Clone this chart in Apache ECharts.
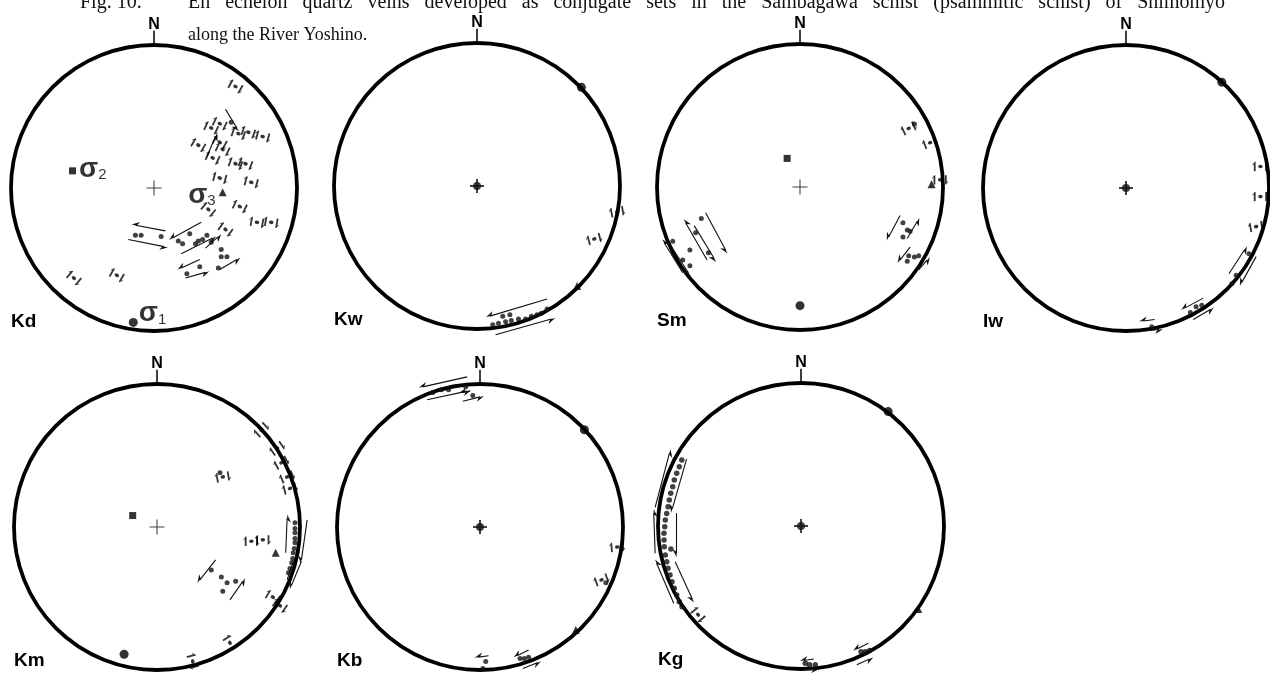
<!DOCTYPE html>
<html lang="en">
<head>
<meta charset="UTF-8">
<title>Fig. 10 en echelon quartz veins</title>
<script src="https://cdn.jsdelivr.net/npm/echarts@6/dist/echarts.min.js"></script>
<style>
  html, body { margin: 0; padding: 0; background: #fff; }
  #main { width: 1270px; height: 674px; }
</style>
</head>
<body>
<div id="main"></div>
<script type="text/javascript">
// all positions are on the primitive circle: x = east, y = north, radius 1

// Kd
var kdDots = [
  [-0.13, -0.33], [-0.09, -0.33], [0.05, -0.34],
  [0.17, -0.37], [0.25, -0.32], [0.20, -0.39], [0.29, -0.39], [0.31, -0.37], [0.34, -0.36], [0.37, -0.33], [0.40, -0.38],
  [0.47, -0.43], [0.47, -0.48], [0.51, -0.48], [0.45, -0.56],
  [0.32, -0.55], [0.23, -0.60], [0.54, 0.46]
];
var kdShear = [
  [0.57, 0.71, -30], [0.40, 0.42, -25], [0.46, 0.45, -25], [0.59, 0.38, -20], [0.66, 0.39, -20], [0.76, 0.36, -15],
  [0.31, 0.30, -30], [0.46, 0.32, -30], [0.41, 0.21, -25], [0.48, 0.27, -25], [0.57, 0.17, -20], [0.64, 0.17, -20],
  [0.46, 0.07, -15], [0.68, 0.04, -15],
  [0.38, -0.15, -40], [0.60, -0.13, -25], [0.72, -0.24, -10], [0.82, -0.24, -10], [0.50, -0.29, -35],
  [-0.56, -0.63, 140], [-0.26, -0.61, 150]
];
var kdArrows = [
  [0.08, -0.30, -0.13, -0.26], [-0.18, -0.36, 0.07, -0.41],
  [0.33, -0.24, 0.13, -0.35], [0.19, -0.46, 0.41, -0.35], [0.36, -0.42, 0.45, -0.34],
  [0.46, -0.57, 0.58, -0.50],
  [0.32, -0.50, 0.19, -0.56], [0.22, -0.63, 0.36, -0.59],
  [0.50, 0.55, 0.58, 0.42], [0.37, 0.22, 0.43, 0.36]
];
var kdSig1 = [[-0.145, -0.94]];
var kdSig2 = [[-0.57, 0.12]];
var kdSig3 = [[0.48, -0.03]];

// Kw
var kwDots = [
  [0.11, -0.97], [0.15, -0.96], [0.18, -0.91], [0.20, -0.95], [0.23, -0.90], [0.24, -0.94],
  [0.29, -0.93], [0.34, -0.93], [0.38, -0.91], [0.42, -0.90], [0.45, -0.89], [0.49, -0.86]
];
var kwShear = [[0.98, -0.18, 10], [0.82, -0.37, 15]];
var kwArrows = [[0.49, -0.79, 0.09, -0.91], [0.13, -1.04, 0.52, -0.93]];
var kwSig1 = [[0.73, 0.69]];
var kwSig3 = [[0.70, -0.70]];

// Sm
var smDots = [
  [0.80, 0.44], [0.72, -0.25], [0.75, -0.30], [0.72, -0.35], [0.77, -0.31],
  [0.76, -0.48], [0.80, -0.49], [0.75, -0.52], [0.83, -0.48],
  [-0.89, -0.38], [-0.82, -0.51], [-0.77, -0.55], [-0.77, -0.44], [-0.73, -0.32], [-0.69, -0.22], [-0.64, -0.46]
];
var smShear = [[0.76, 0.41, 25], [0.91, 0.31, 20], [0.98, 0.05, 0]];
var smArrows = [
  [0.70, -0.20, 0.62, -0.35], [0.75, -0.36, 0.82, -0.24], [0.77, -0.42, 0.70, -0.51], [0.83, -0.58, 0.89, -0.51],
  [-0.82, -0.60, -0.95, -0.39], [-0.91, -0.40, -0.78, -0.60], [-0.65, -0.51, -0.80, -0.25],
  [-0.74, -0.27, -0.60, -0.50], [-0.66, -0.18, -0.52, -0.44]
];
var smSig1 = [[0.0, -0.83]];
var smSig2 = [[-0.09, 0.20]];
var smSig3 = [[0.92, 0.02]];

// Iw
var iwDots = [[0.86, -0.46], [0.77, -0.61], [0.74, -0.67], [0.45, -0.87], [0.49, -0.83], [0.53, -0.82], [0.18, -0.97]];
var iwShear = [[0.94, 0.15, 0], [0.94, -0.06, 0], [0.91, -0.27, 10]];
var iwArrows = [
  [0.72, -0.60, 0.83, -0.43], [0.91, -0.48, 0.81, -0.66], [0.54, -0.77, 0.41, -0.84],
  [0.47, -0.92, 0.59, -0.85], [0.20, -0.92, 0.12, -0.93], [0.13, -1.00, 0.23, -0.99]
];
var iwSig1 = [[0.67, 0.74]];

// Km
var kmDots = [
  [0.44, 0.38], [0.38, -0.30], [0.45, -0.35], [0.49, -0.39], [0.55, -0.38], [0.46, -0.45],
  [0.965, 0.03], [0.965, -0.01], [0.965, -0.04], [0.965, -0.08], [0.965, -0.11], [0.96, -0.15],
  [0.953, -0.18], [0.949, -0.22], [0.942, -0.25], [0.93, -0.29], [0.919, -0.32]
];
var kmShear = [
  [0.46, 0.35, 10], [0.66, -0.10, 0], [0.74, -0.09, 0],
  [0.73, 0.68, 43], [0.84, 0.55, 35], [0.87, 0.45, 28], [0.91, 0.35, 22], [0.93, 0.27, 15],
  [0.81, -0.49, -31], [0.86, -0.55, -35], [0.51, -0.81, -58], [0.25, -0.94, -75]
];
var kmArrows = [
  [0.41, -0.23, 0.30, -0.37], [0.51, -0.51, 0.60, -0.38],
  [0.90, -0.18, 0.91, 0.06], [1.05, 0.05, 1.01, -0.23], [0.91, -0.37, 0.95, -0.25], [1.01, -0.24, 0.94, -0.41]
];
var kmSig1 = [[-0.23, -0.89]];
var kmSig2 = [[-0.17, 0.08]];
var kmSig3 = [[0.83, -0.18]];

// Kb
var kbDots = [
  [-0.33, 0.94], [-0.27, 0.96], [-0.22, 0.96], [-0.10, 0.98], [-0.05, 0.92],
  [0.88, -0.39], [0.04, -0.94], [0.02, -0.99], [0.28, -0.92], [0.31, -0.92], [0.34, -0.91]
];
var kbShear = [[0.96, -0.14, 5], [0.85, -0.37, 20]];
var kbArrows = [
  [-0.09, 1.05, -0.40, 0.98], [-0.37, 0.89, -0.09, 0.95], [-0.07, 0.95, -0.12, 0.94], [-0.12, 0.88, 0.00, 0.91],
  [0.06, -0.90, -0.01, -0.91], [0.34, -0.86, 0.26, -0.90], [0.30, -0.99, 0.40, -0.95]
];
var kbSig1 = [[0.73, 0.68]];
var kbSig3 = [[0.67, -0.72]];

// Kg
var kgDots = [
  [-0.834, 0.462], [-0.851, 0.415], [-0.869, 0.369], [-0.886, 0.322], [-0.897, 0.275], [-0.911, 0.229],
  [-0.921, 0.182], [-0.930, 0.135], [-0.939, 0.088], [-0.949, 0.042], [-0.953, -0.005], [-0.958, -0.051],
  [-0.958, -0.098], [-0.956, -0.145], [-0.949, -0.203], [-0.939, -0.250], [-0.930, -0.296], [-0.916, -0.343],
  [-0.902, -0.390], [-0.886, -0.436], [-0.869, -0.483], [-0.851, -0.530], [-0.832, -0.564],
  [-0.91, -0.16], [0.42, -0.88], [0.45, -0.88], [0.48, -0.87], [0.03, -0.96], [0.06, -0.97], [0.10, -0.97]
];
var kgShear = [[-0.72, -0.62, 130]];
var kgArrows = [
  [-1.02, 0.13, -0.92, 0.51], [-1.02, -0.19, -1.03, 0.09], [-0.89, -0.54, -1.01, -0.26],
  [-0.80, 0.47, -0.90, 0.12], [-0.87, 0.09, -0.87, -0.19], [-0.88, -0.25, -0.76, -0.51],
  [0.47, -0.82, 0.39, -0.86], [0.39, -0.97, 0.48, -0.93], [0.09, -0.93, 0.02, -0.94], [0.02, -1.00, 0.10, -1.00]
];
var kgSig1 = [[0.61, 0.80]];
var kgSig3 = [[0.82, -0.58]];

var panels = [
  { name: 'Kd', dots: kdDots, shear: kdShear, arrows: kdArrows, sig1: kdSig1, sig2: kdSig2, sig3: kdSig3, centre: 'thin' },
  { name: 'Kw', dots: kwDots, shear: kwShear, arrows: kwArrows, sig1: kwSig1, sig2: [], sig3: kwSig3, centre: 'bold' },
  { name: 'Sm', dots: smDots, shear: smShear, arrows: smArrows, sig1: smSig1, sig2: smSig2, sig3: smSig3, centre: 'thin' },
  { name: 'Iw', dots: iwDots, shear: iwShear, arrows: iwArrows, sig1: iwSig1, sig2: [], sig3: [], centre: 'bold' },
  { name: 'Km', dots: kmDots, shear: kmShear, arrows: kmArrows, sig1: kmSig1, sig2: kmSig2, sig3: kmSig3, centre: 'thin' },
  { name: 'Kb', dots: kbDots, shear: kbShear, arrows: kbArrows, sig1: kbSig1, sig2: [], sig3: kbSig3, centre: 'bold' },
  { name: 'Kg', dots: kgDots, shear: kgShear, arrows: kgArrows, sig1: kgSig1, sig2: [], sig3: kgSig3, centre: 'bold' }
];

// net centres in px, radius
var layout = [[154, 188], [477, 186], [800, 187], [1126, 188], [157, 527], [480, 527], [801, 526]];
var R = 143;

var captionLine1 = 'En echelon quartz veins developed as conjugate sets in the Sambagawa schist (psammitic schist) of Shimomyo';
var captionLine2 = 'along the River Yoshino.';

// symbols
var shearGlyph = 'path://M3.2,0 L3.2,12 L1.4,12 L1.4,2.6 L0.5,4.6 L0,3.7 L2.3,0 Z ' +
  'M5.7,6 A2.3,2.3 0 1 1 10.3,6 A2.3,2.3 0 1 1 5.7,6 Z ' +
  'M12.8,12 L12.8,0 L14.6,0 L14.6,9.4 L15.5,7.4 L16,8.3 L13.7,12 Z';
var halfHead = 'path://M5,0 L8.5,9 L5,6 Z M1.5,9 L1.55,9 L1.5,8.95 Z';
var thinPlus = 'path://M6.5,0 L7.5,0 L7.5,6.5 L14,6.5 L14,7.5 L7.5,7.5 L7.5,14 L6.5,14 L6.5,7.5 L0,7.5 L0,6.5 L6.5,6.5 Z';
var boldPlus = 'path://M6,0 L8,0 L8,6 L14,6 L14,8 L8,8 L8,14 L6,14 L6,8 L0,8 L0,6 L6,6 Z';

var sigmaRich = {
  s: { fontSize: 28, fontWeight: 'bold', fontFamily: 'Liberation Sans', color: '#000' },
  n: { fontSize: 15, fontFamily: 'Liberation Sans', color: '#000', padding: [12, 0, 0, 0] }
};
function sigmaLabel(n, pos, off) {
  return { show: true, position: pos, distance: 3, offset: off, formatter: '{s|σ}{n|' + n + '}', rich: sigmaRich };
}

// the first caption line is justified in the print, so its word gaps are wide
var option = {
  animation: false,
  backgroundColor: '#fff',
  polar: [], angleAxis: [], radiusAxis: [],
  grid: [], xAxis: [], yAxis: [],
  series: [],
  graphic: [
    { type: 'text', x: 80, y: 3, style: { text: 'Fig. 10.', font: '20px "Liberation Serif"', fill: '#111', verticalAlign: 'middle', textVerticalAlign: 'middle' } },
    { type: 'text', x: 188, y: 3, style: { text: captionLine1.split(' ').join('   '), font: '20px "Liberation Serif"', fill: '#111', verticalAlign: 'middle', textVerticalAlign: 'middle' } },
    { type: 'text', x: 188, y: 35, style: { text: captionLine2, font: '18px "Liberation Serif"', fill: '#111', verticalAlign: 'middle', textVerticalAlign: 'middle' } }
  ]
};

panels.forEach(function (p, i) {
  var cx = layout[i][0], cy = layout[i][1];
  var ax = { xAxisIndex: i, yAxisIndex: i, coordinateSystem: 'cartesian2d' };

  option.polar.push({ center: [cx, cy], radius: R });
  option.angleAxis.push({
    polarIndex: i, type: 'value', min: 0, max: 360, startAngle: 90, clockwise: true,
    axisLine: { show: true, lineStyle: { color: '#000', width: 3.8 } },
    axisTick: { show: false }, axisLabel: { show: false }, splitLine: { show: false }
  });
  option.radiusAxis.push({ polarIndex: i, type: 'value', min: 0, max: 1, show: false });
  option.grid.push({ left: cx - R, top: cy - R, width: 2 * R, height: 2 * R, show: false });
  option.xAxis.push({ gridIndex: i, type: 'value', min: -1, max: 1, show: false });
  option.yAxis.push({ gridIndex: i, type: 'value', min: -1, max: 1, show: false });

  // north tick
  option.series.push(Object.assign({
    type: 'lines', clip: false, silent: true,
    lineStyle: { color: '#000', width: 1.5, opacity: 1 },
    data: [{ coords: [[0, 1], [0, 1.1]] }]
  }, ax));

  // shear-sense arrows
  option.series.push(Object.assign({
    type: 'lines', clip: false, silent: true,
    symbol: ['none', halfHead], symbolSize: [6, 8],
    lineStyle: { color: '#111', width: 1.1, opacity: 1 },
    data: p.arrows.map(function (a) { return { coords: [[a[0], a[1]], [a[2], a[3]]] }; })
  }, ax));

  // vein poles
  option.series.push(Object.assign({
    type: 'scatter', clip: false, silent: true, symbol: 'circle', symbolSize: p.name === 'Kg' ? 5.5 : 5,
    itemStyle: { color: '#111' }, data: p.dots
  }, ax));

  // poles with small shear-sense marks
  option.series.push(Object.assign({
    type: 'scatter', clip: false, silent: true, symbol: shearGlyph, symbolSize: [16, 12.5], symbolKeepAspect: true,
    itemStyle: { color: '#000' },
    data: p.shear.map(function (s) { return { value: [s[0], s[1]], symbolRotate: s[2] }; })
  }, ax));

  // sigma 1 (circle), sigma 2 (square), sigma 3 (triangle)
  var isKd = p.name === 'Kd';
  option.series.push(Object.assign({
    type: 'scatter', clip: false, silent: true, symbol: 'circle', symbolSize: 9,
    itemStyle: { color: '#000' }, data: p.sig1,
    label: isKd ? sigmaLabel(1, 'right', [-2, -9]) : { show: false }
  }, ax));
  option.series.push(Object.assign({
    type: 'scatter', clip: false, silent: true, symbol: 'rect', symbolSize: 7,
    itemStyle: { color: '#000' }, data: p.sig2,
    label: isKd ? sigmaLabel(2, 'right', [0, -2]) : { show: false }
  }, ax));
  option.series.push(Object.assign({
    type: 'scatter', clip: false, silent: true, symbol: 'triangle', symbolSize: 8,
    itemStyle: { color: '#000' }, data: p.sig3,
    label: isKd ? sigmaLabel(3, 'left', [0, 3]) : { show: false }
  }, ax));

  // centre of the net
  if (p.centre === 'thin') {
    option.series.push(Object.assign({
      type: 'scatter', silent: true, symbol: thinPlus, symbolSize: 15,
      itemStyle: { color: '#111' }, data: [[0, 0]]
    }, ax));
  } else {
    option.series.push(Object.assign({
      type: 'scatter', silent: true, symbol: boldPlus, symbolSize: 14,
      itemStyle: { color: '#111' }, data: [[0, 0]]
    }, ax));
    option.series.push(Object.assign({
      type: 'scatter', silent: true, symbol: 'circle', symbolSize: 8,
      itemStyle: { color: '#111' }, data: [[0, 0]]
    }, ax));
  }

  // N and panel name
  option.graphic.push({
    type: 'text', x: cx, y: cy - R - 20,
    style: { text: 'N', font: 'bold 16px "Liberation Sans"', fill: '#000', align: 'center', textAlign: 'center', verticalAlign: 'middle', textVerticalAlign: 'middle' }
  });
  option.graphic.push({
    type: 'text', x: cx - R, y: cy + R - 9,
    style: { text: p.name, font: 'bold 19px "Liberation Sans"', fill: '#000', verticalAlign: 'middle', textVerticalAlign: 'middle' }
  });
});

var myChart = echarts.init(document.getElementById('main'));
myChart.setOption(option);
</script>
</body>
</html>
